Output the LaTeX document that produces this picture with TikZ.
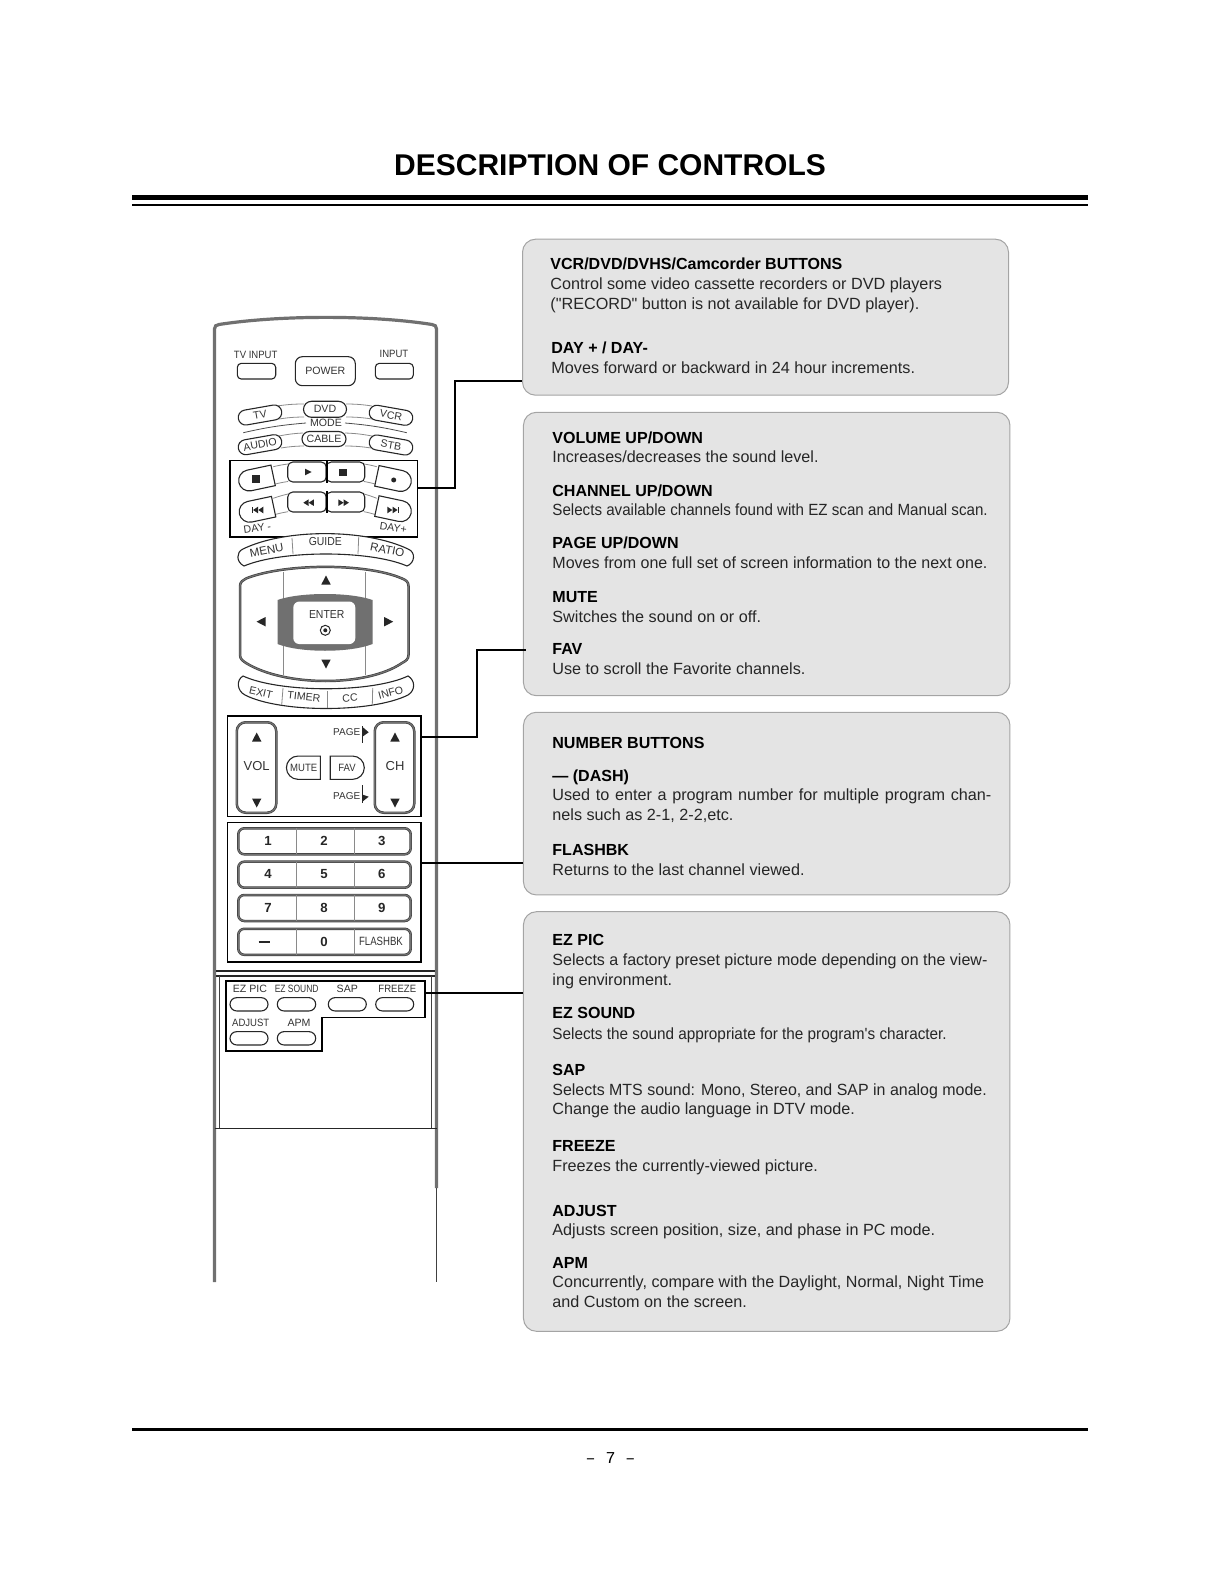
\documentclass[tikz,border=0pt]{standalone}
\usepackage{fontspec}
\setmainfont[Ligatures=TeXOff]{Liberation Sans}
\newfontfamily\monofont{Liberation Mono}
\usetikzlibrary{shapes.misc}

\definecolor{panelgrey}{HTML}{E4E4E4}
\definecolor{paneledge}{HTML}{A4A4A4}
\definecolor{inkgrey}{HTML}{333333}
\definecolor{bandgrey}{HTML}{707070}
\definecolor{arcgrey}{HTML}{8A8A8A}

\tikzset{
	wh/.style 2 args={minimum width=#1*0.5pt, minimum height=#2*0.5pt, inner sep=0pt},
	panel/.style={draw=paneledge, fill=panelgrey, line width=0.5pt, rounded corners=6.5pt},
	headline/.style={anchor=base west, inner sep=0pt, yshift=-3.1pt, text=black, font=\fontsize{8.02}{10}\selectfont\bfseries},
	bodyline/.style={anchor=base west, inner sep=0pt, yshift=-3.1pt, text=black!85, font=\fontsize{8.1}{10}\selectfont},
	link/.style={draw=black, line width=0.85pt},
	framebox/.style={draw=black, line width=0.8pt},
	tiny/.style={inner sep=0pt, text=inkgrey, font=\fontsize{5.3}{6}\selectfont},
	btn/.style={draw=black!85, line width=0.55pt, fill=white, inner sep=0pt, text=inkgrey, font=\fontsize{5.3}{6}\selectfont},
	pill/.style={btn, rounded rectangle},
	softkey/.style={draw=black!75, double=black!55, line width=0.35pt, double distance=0.55pt, fill=white},
	seam/.style={draw=arcgrey, line width=0.4pt},
	keytext/.style={inner sep=0pt, text=black!85, font=\fontsize{6.6}{8}\selectfont\bfseries},
	glyph/.style={fill=black!85, draw=none}
}

\begin{document}
\begin{tikzpicture}[x=0.5pt, y=-0.5pt]
	\useasboundingbox (0,0) rectangle (1219,1582);

	% Title and rules
	\node[inner sep=0pt, font=\fontsize{15}{18}\selectfont\bfseries] (title) at (610,165) {DESCRIPTION OF CONTROLS};
	\draw[line width=2.5pt] (132,197.5) -- (1088,197.5);
	\draw[line width=1pt] (132,205) -- (1088,205);
	\draw[line width=1.7pt] (132,1429.7) -- (1088,1429.7);
	\node[inner sep=0pt, font=\fontsize{8.3}{10}\selectfont\monofont] (pagenum) at (610.5,1458.5) {– 7 –};

	% Panels
	\node[panel, wh={486}{156}] (panelDeck) at (765.5,317.2) {};
	\node[panel, wh={486.5}{283.4}] (panelVol) at (766.7,554) {};
	\node[panel, wh={486.5}{182.7}] (panelNum) at (766.7,803.6) {};
	\node[panel, wh={486.5}{419.6}] (panelPic) at (766.7,1121.5) {};

	% Panel texts
	\node[headline] (deckA) at (550,263.3) {VCR/DVD/DVHS/Camcorder BUTTONS};
	\node[bodyline] (deckB) at (550,283.3) {Control some video cassette recorders or DVD players};
	\node[bodyline] (deckC) at (550,303.3) {("RECORD" button is not available for DVD player).};
	\node[headline] (deckD) at (551,347.3) {DAY + / DAY-};
	\node[bodyline] (deckE) at (551,367.3) {Moves forward or backward in 24 hour increments.};

	\node[headline] (volA) at (552,437.3) {VOLUME UP/DOWN};
	\node[bodyline] (volB) at (552,456.7) {\scalebox{0.995}[1]{Increases/decreases the sound level.}};
	\node[headline] (volC) at (552,490) {CHANNEL UP/DOWN};
	\node[bodyline] (volD) at (552,509.3) {\scalebox{0.935}[1]{Selects available channels found with EZ scan and Manual scan.}};
	\node[headline] (volE) at (552,542.3) {PAGE UP/DOWN};
	\node[bodyline] (volF) at (552,562.7) {\scalebox{0.99}[1]{Moves from one full set of screen information to the next one.}};
	\node[headline] (volG) at (552,596.3) {MUTE};
	\node[bodyline] (volH) at (552,616.7) {Switches the sound on or off.};
	\node[headline] (volI) at (552,648.3) {FAV};
	\node[bodyline] (volJ) at (552,668.3) {Use to scroll the Favorite channels.};

	\node[headline] (numA) at (552,742.3) {NUMBER BUTTONS};
	\node[headline] (numB) at (552,775.7) {— (DASH)};
	\node[bodyline] (numC) at (552,794.5) {\makebox[219.5pt][s]{Used to enter a program number for multiple program chan-}};
	\node[bodyline] (numD) at (552,814.7) {nels such as 2-1, 2-2,etc.};
	\node[headline] (numE) at (552,849.3) {FLASHBK};
	\node[bodyline] (numF) at (552,869.7) {Returns to the last channel viewed.};

	\node[headline] (picA) at (552,939.3) {EZ PIC};
	\node[bodyline] (picB) at (552,959.7) {\scalebox{0.99}[1]{Selects a factory preset picture mode depending on the view-}};
	\node[bodyline] (picC) at (552,979.5) {ing environment.};
	\node[headline] (picD) at (552,1012.7) {EZ SOUND};
	\node[bodyline] (picE) at (552,1033.7) {\scalebox{0.945}[1]{Selects the sound appropriate for the program's character.}};
	\node[headline] (picF) at (552,1069.3) {SAP};
	\node[bodyline] (picG) at (552,1089.3) {\scalebox{0.985}[1]{Selects MTS sound: Mono, Stereo, and SAP in analog mode.}};
	\node[bodyline] (picH) at (552,1108.7) {Change the audio language in DTV mode.};
	\node[headline] (picI) at (552,1145.3) {FREEZE};
	\node[bodyline] (picJ) at (552,1165.7) {Freezes the currently-viewed picture.};
	\node[headline] (picK) at (552,1210.3) {ADJUST};
	\node[bodyline] (picL) at (552,1229.7) {Adjusts screen position, size, and phase in PC mode.};
	\node[headline] (picM) at (552,1262.3) {APM};
	\node[bodyline] (picN) at (552,1281.7) {\scalebox{0.995}[1]{Concurrently, compare with the Daylight, Normal, Night Time}};
	\node[bodyline] (picO) at (552,1301.7) {and Custom on the screen.};

	% Remote body
	\draw[draw=bandgrey, line width=1.6pt] (214.5,1282) -- (214.5,329) .. controls (214.5,326) and (216,325) .. (219,324.5) .. controls (280,315) and (372,315) .. (432,324.5) .. controls (435,325) and (436.5,326) .. (436.5,329) -- (436.5,1188);
	\draw[line width=0.7pt, draw=black!75] (436.5,1188) -- (436.5,1282);
	\draw[line width=1pt, draw=black!85] (216,970.7) -- (435,970.7);
	\draw[line width=0.6pt, draw=black!85] (216,976) -- (435,976);
	\draw[line width=0.5pt, draw=black!75] (219,976) -- (219,1128);
	\draw[line width=0.5pt, draw=black!75] (431,976) -- (431,1128);
	\draw[line width=0.6pt, draw=black!85] (214.5,1128.3) -- (436.5,1128.3);

	% Top buttons
	\node[tiny] (lblTvInput) at (255.7,355) {\scalebox{0.9}[1]{TV INPUT}};
	\node[tiny] (lblInput) at (394,354.3) {\scalebox{0.9}[1]{INPUT}};
	\node[btn, rounded corners=2pt, wh={38.4}{15.7}] (btnTvInput) at (256.5,371.2) {};
	\node[btn, rounded corners=2pt, wh={38}{15.7}] (btnInput) at (394.3,371.2) {};
	\node[btn, rounded corners=3.5pt, wh={60}{29}] (btnPower) at (325.3,371.2) {POWER};

	% Mode buttons
	\draw[seam] (277,406) to[bend left=4] (304,404);
	\draw[seam] (279,419) to[bend left=4] (304,417);
	\draw[seam] (346,404) to[bend left=4] (372,406);
	\draw[seam] (346,417) to[bend left=4] (372,419);
	\draw[seam] (279,436) to[bend left=4] (303,433);
	\draw[seam] (281,448) to[bend left=4] (304,446);
	\draw[seam] (345,433) to[bend left=4] (372,436);
	\draw[seam] (345,446) to[bend left=4] (371,448);
	\draw[seam, draw=black!70] (243.3,432.7) to[bend left=4] (306,423);
	\draw[seam, draw=black!70] (345,423) to[bend left=4] (406.7,432.7);
	\node[tiny] (lblMode) at (326,422.7) {MODE};
	\node[pill, wh={44}{15}, rotate=10] (btnTv) at (260,415) {TV};
	\node[pill, wh={43}{16}] (btnDvd) at (325,409.3) {DVD};
	\node[pill, wh={44}{15}, rotate=-10] (btnVcr) at (391,415.3) {VCR};
	\node[pill, wh={44}{15}, rotate=10] (btnAudio) at (260,444.7) {AUDIO};
	\node[pill, wh={44}{15}] (btnCable) at (324,439) {CABLE};
	\node[pill, wh={44}{15}, rotate=-10] (btnStb) at (391,445) {STB};

	% Transport keys
	\node[framebox, wh={187.3}{76}] (boxDeck) at (323.7,498.7) {};
	\draw[seam] (273.3,466.7) to[bend left=3] (288,464);
	\draw[seam] (273.5,484.5) to[bend left=3] (288,481.5);
	\draw[seam] (364,464) to[bend left=3] (376.7,466.7);
	\draw[seam] (364,481.5) to[bend left=3] (376.7,484.5);
	\draw[seam] (273.3,498.3) to[bend left=3] (288,494);
	\draw[seam] (273.3,515) to[bend left=3] (288,511.7);
	\draw[seam] (364,494) to[bend left=3] (376.7,498.3);
	\draw[seam] (364,511.7) to[bend left=3] (376.7,515);
	\node[pill, rounded rectangle east arc=none, wh={35}{21}, rotate=12] (keyStop) at (256,479) {};
	\node[pill, rounded rectangle west arc=none, wh={35}{21}, rotate=-12] (keyRec) at (394,479.5) {};
	\node[pill, rounded rectangle east arc=none, wh={35}{21}, rotate=12] (keyPrev) at (256.5,510.3) {};
	\node[pill, rounded rectangle west arc=none, wh={35}{21}, rotate=-12] (keyNext) at (394,509.7) {};
	\node[btn, rounded corners=2.5pt, wh={38.5}{20}] (keyPlay) at (307,472) {};
	\node[btn, rounded corners=2.5pt, wh={38.5}{20}] (keyHalt) at (345.5,472) {};
	\node[btn, rounded corners=2.5pt, wh={38.5}{20}] (keyRew) at (307,502) {};
	\node[btn, rounded corners=2.5pt, wh={38.5}{20}] (keyFwd) at (345.5,502) {};
	\draw[line width=0.8pt] (keyPlay.north east) -- (keyPlay.south east);
	\draw[line width=0.8pt] (keyRew.north east) -- (keyRew.south east);

	% Transport glyphs
	\fill[glyph] (252.3,475.3) rectangle (259.6,482.6);
	\fill[glyph] (339.3,468.6) rectangle (346.6,475.9);
	\fill[glyph] (305,468.7) -- ++(6.7,3.3) -- ++(-6.7,3.3) -- cycle;
	\fill[glyph] (393.7,480) circle (2.5);
	\fill[glyph] (252,506.7) rectangle (253,513.3);
	\fill[glyph] (253,510) -- ++(5,-3.3) -- ++(0,6.6) -- cycle;
	\fill[glyph] (258.3,510) -- ++(5,-3.3) -- ++(0,6.6) -- cycle;
	\fill[glyph] (303.3,502.7) -- ++(5.3,-3.3) -- ++(0,6.6) -- cycle;
	\fill[glyph] (308.6,502.7) -- ++(5.3,-3.3) -- ++(0,6.6) -- cycle;
	\fill[glyph] (338.3,499.4) -- ++(5.3,3.3) -- ++(-5.3,3.3) -- cycle;
	\fill[glyph] (343.6,499.4) -- ++(5.3,3.3) -- ++(-5.3,3.3) -- cycle;
	\fill[glyph] (387.3,506.7) -- ++(5,3.3) -- ++(-5,3.3) -- cycle;
	\fill[glyph] (392.6,506.7) -- ++(5,3.3) -- ++(-5,3.3) -- cycle;
	\fill[glyph] (398,506.7) rectangle (399,513.3);
	\node[tiny, rotate=8] (lblDayMinus) at (257.3,528) {DAY -};
	\node[tiny, rotate=-8] (lblDayPlus) at (393.3,528) {DAY+};

	% Menu strip
	\draw[btn] (243,549) .. controls (285,528.5) and (365,528.5) .. (408,549) .. controls (416,552) and (415,563) .. (407,566) .. controls (370,550) and (282,550) .. (244,566) .. controls (236,562) and (236,552) .. (243,549);
	\draw[seam] (292,538) -- (293,554);
	\draw[seam] (358.7,537) -- (358,554);
	\node[tiny, font=\fontsize{5.8}{7}\selectfont, rotate=11] (lblMenu) at (266.7,550.7) {MENU};
	\node[tiny, font=\fontsize{5.8}{7}\selectfont] (lblGuide) at (325.3,542) {\scalebox{0.9}[1]{GUIDE}};
	\node[tiny, font=\fontsize{5.8}{7}\selectfont, rotate=-11] (lblRatio) at (387.3,550) {RATIO};

	% Direction pad
	\draw[softkey] (240,586) .. controls (240,582) and (243,580) .. (246,578.5) .. controls (285,563) and (367,563) .. (402,578.5) .. controls (406,580) and (408.5,582) .. (408.5,586) -- (408.5,655) .. controls (408.5,659) and (406,661) .. (402,663) .. controls (367,687) and (285,687) .. (246,663) .. controls (243,661) and (240,659) .. (240,655) -- cycle;
	\draw[seam] (283.3,572) -- (283.3,675);
	\draw[seam] (365.7,572) -- (365.7,675);
	\fill[bandgrey] (277.5,600) .. controls (300,592) and (350,592) .. (372.5,600) -- (372.5,644) .. controls (350,653) and (300,653) .. (277.5,644) -- cycle;
	\node[draw=none, fill=white, rounded corners=3pt, wh={62}{42.5}] (padEnter) at (324.3,622.8) {};
	\node[tiny, font=\fontsize{5.8}{7}\selectfont] (lblEnter) at (326.7,615) {\scalebox{0.9}[1]{ENTER}};
	\draw[line width=0.5pt, draw=black!85] (325.3,630.3) circle (5);
	\fill[glyph] (325.3,630.3) circle (2);
	\fill[glyph] (326,575.5) -- ++(4.7,9) -- ++(-9.4,0) -- cycle;
	\fill[glyph] (326,668.5) -- ++(4.7,-9) -- ++(-9.4,0) -- cycle;
	\fill[glyph] (256.5,621.7) -- ++(9,-4.7) -- ++(0,9.4) -- cycle;
	\fill[glyph] (393.2,621.7) -- ++(-9,-4.7) -- ++(0,9.4) -- cycle;

	% Exit strip
	\draw[btn] (243,676) .. controls (280,693) and (372,693) .. (408,676) .. controls (415,680) and (416,690) .. (408,695) .. controls (372,713) and (280,713) .. (245,695) .. controls (237,691) and (236,680) .. (243,676);
	\draw[seam] (283,688) -- (281.7,705);
	\draw[seam] (327.3,691) -- (327.3,708);
	\draw[seam] (372.7,688) -- (372.3,705);
	\node[tiny, rotate=-13] (lblExit) at (261,692.7) {EXIT};
	\node[tiny, rotate=-6] (lblTimer) at (304,696.7) {TIMER};
	\node[tiny, rotate=5] (lblCc) at (350,698.3) {CC};
	\node[tiny, rotate=15] (lblInfo) at (390.7,692.7) {INFO};

	% Volume and channel keys
	\node[framebox, wh={193.3}{100.7}] (boxVol) at (324.3,766.3) {};
	\node[softkey, rounded corners=4.5pt, wh={39.5}{90.5}] (keyVol) at (256.5,767.5) {};
	\node[softkey, rounded corners=4.5pt, wh={39.5}{90.5}] (keyCh) at (394.5,767.5) {};
	\node[tiny, font=\fontsize{6.5}{8}\selectfont] (lblVol) at (256.7,766) {VOL};
	\node[tiny, font=\fontsize{6.5}{8}\selectfont] (lblCh) at (395,766) {CH};
	\fill[glyph] (256.7,732.5) -- ++(4.7,9) -- ++(-9.4,0) -- cycle;
	\fill[glyph] (256.7,807.5) -- ++(4.7,-9) -- ++(-9.4,0) -- cycle;
	\fill[glyph] (395,732.5) -- ++(4.7,9) -- ++(-9.4,0) -- cycle;
	\fill[glyph] (395,807.5) -- ++(4.7,-9) -- ++(-9.4,0) -- cycle;
	\node[pill, wh={34}{23.3}, rounded rectangle east arc=none] (keyMute) at (303.7,767.7) {\scalebox{0.9}[1]{MUTE}};
	\node[pill, wh={34}{23.3}, rounded rectangle west arc=none] (keyFav) at (347,767.7) {\scalebox{0.9}[1]{FAV}\hspace{3pt}};
	\node[tiny, font=\fontsize{5}{6}\selectfont] (lblPageUp) at (346.7,732.3) {PAGE};
	\node[tiny, font=\fontsize{5}{6}\selectfont] (lblPageDown) at (346.7,796) {PAGE};
	\draw[line width=0.5pt, draw=black!85] (362,726) -- (362,743.3);
	\draw[line width=0.5pt, draw=black!85] (362,785) -- (362,802.7);
	\fill[glyph] (362,726.5) -- (368.7,732.3) -- (362,737) -- cycle;
	\fill[glyph] (362,794.5) -- (368.7,796.7) -- (362,802) -- cycle;

	% Number keys
	\node[framebox, wh={193.3}{139.7}] (boxNum) at (324.3,892.2) {};
	\foreach \rowname/\y in {A/841.3, B/874.7, C/908, D/941.8}
		\node[softkey, rounded corners=3pt, wh={172.4}{26}] (row\rowname) at (324.5,\y) {};
	\foreach \y in {841.3, 874.7, 908, 941.8} {
		\draw[seam] (296.7,\y-13) -- (296.7,\y+13);
		\draw[seam] (354,\y-13) -- (354,\y+13);
	}
	\foreach \digit/\x/\y in {1/268/841, 2/324/841, 3/381.7/841, 4/268/874.3, 5/324/874.3, 6/381.7/874.3, 7/268/907.7, 8/324/907.7, 9/381.7/907.7, 0/324/942.3}
		\node[keytext] (digit\digit) at (\x,\y) {\digit};
	\draw[line width=0.9pt, draw=black!85] (258.7,941.7) -- (270,941.7);
	\node[tiny, font=\fontsize{6}{7}\selectfont] (lblFlashbk) at (381,941.3) {\scalebox{0.8}[1]{FLASHBK}};

	% Picture keys
	\draw[framebox] (225.7,980.7) -- (424.7,980.7) -- (424.7,1017.3) -- (321.7,1017.3) -- (321.7,1051) -- (225.7,1051) -- cycle;
	\coordinate (boxPic) at (424.7,992.7);
	\node[pill, wh={38}{13.3}] (keyEzPic) at (249,1004.3) {};
	\node[pill, wh={38.4}{13.3}] (keyEzSound) at (296.5,1004.3) {};
	\node[pill, wh={38}{13.3}] (keySap) at (347.3,1004.3) {};
	\node[pill, wh={38}{13.3}] (keyFreeze) at (394.7,1004.3) {};
	\node[pill, wh={38}{13.3}] (keyAdjust) at (249,1038.3) {};
	\node[pill, wh={38.4}{13.3}] (keyApm) at (296.5,1038.3) {};
	\node[tiny] (lblEzPic) at (250,989.3) {EZ PIC};
	\node[tiny] (lblEzSound) at (296.7,989.3) {\scalebox{0.8}[1]{EZ SOUND}};
	\node[tiny] (lblSap) at (347.3,989.3) {SAP};
	\node[tiny] (lblFreeze) at (397.3,989.3) {\scalebox{0.9}[1]{FREEZE}};
	\node[tiny] (lblAdjust) at (250.7,1023.3) {\scalebox{0.9}[1]{ADJUST}};
	\node[tiny] (lblApm) at (299,1023.3) {APM};

	% Connectors
	\coordinate (elbowDeck) at (455,488);
	\coordinate (elbowDeckUp) at (455,380.7);
	\coordinate (elbowVol) at (477.3,737.2);
	\coordinate (elbowVolUp) at (477.3,650);
	\coordinate (stubNum) at (421,863.3);
	\draw[link] (boxDeck.east |- elbowDeck) -- (elbowDeck) -- (elbowDeckUp) -- (elbowDeckUp -| panelDeck.west);
	\draw[link] (boxVol.east |- elbowVol) -- (elbowVol) -- (elbowVolUp) -- (526,650);
	\draw[link] (boxNum.east |- stubNum) -- (stubNum -| panelNum.west);
	\draw[link] (boxPic) -- (boxPic -| panelPic.west);
\end{tikzpicture}
\end{document}
